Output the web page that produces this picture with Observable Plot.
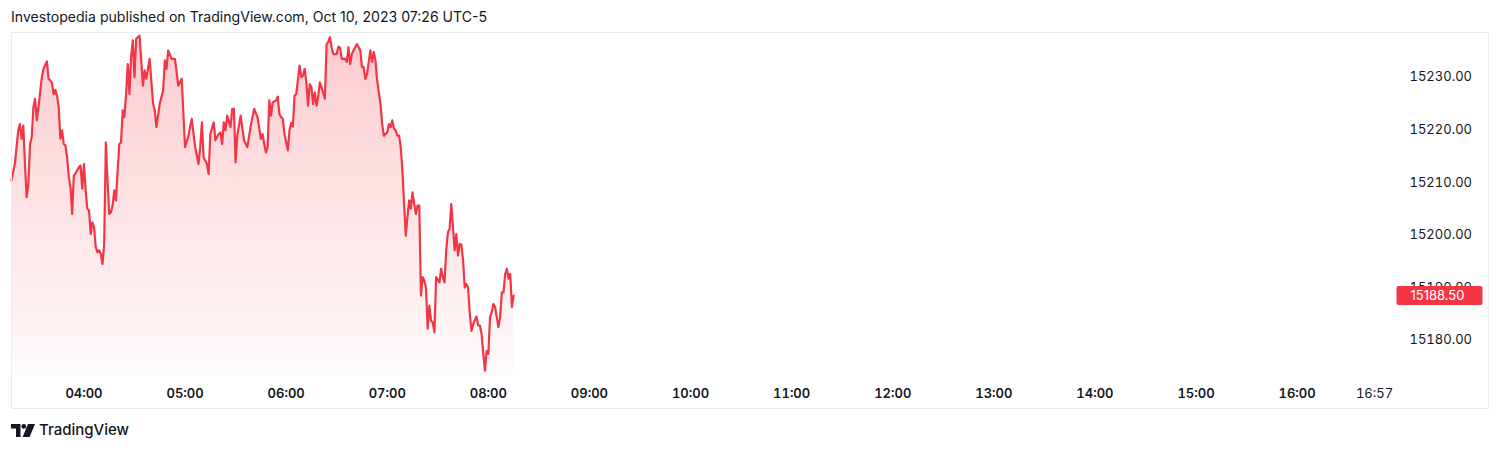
<!DOCTYPE html>
<html><head><meta charset="utf-8">
<script src="https://cdn.jsdelivr.net/npm/d3@7"></script>
<script src="https://cdn.jsdelivr.net/npm/@observablehq/plot@0.6"></script>
<style>
body{margin:0;background:#fff;font-family:Inter,"Liberation Sans",sans-serif;color:#131722;}
#page{position:relative;width:1500px;height:450px;overflow:hidden}
#title{position:absolute;left:11px;top:8px;font-size:14.1px;line-height:18px;white-space:nowrap}
#chart{position:absolute;left:0;top:32px;}
#frame{position:absolute;left:11px;top:32px;width:1478px;height:377px;border:1px solid #e9ebef;box-sizing:border-box;pointer-events:none}
#footer{position:absolute;left:11px;top:420px;display:flex;align-items:center;font-size:15px;font-weight:500;line-height:20px}
#footer svg{margin-right:4px}
</style></head>
<body>
<div id="page">
  <div id="title">Investopedia published on TradingView.com, Oct 10, 2023 07:26 UTC-5</div>
  <div id="chart"></div>
  <div id="frame"></div>
  <div id="footer"><svg width="24" height="13" viewBox="0 0 24 13"><path d="M0 0H9.5V13H5V4.6H0Z" fill="#131722"/><circle cx="12.8" cy="2.4" r="2.4" fill="#131722"/><path d="M17 0H24L18.6 13H11.6Z" fill="#131722"/></svg>TradingView</div>
</div>
<script>
// minute of day (Oct 10, 2023) for each sample
const minuteOfDay = [
197,199,201,202,203,204,205,206,207,208,
209,210,211,212,213,214,215,216,218,219,
220,221,222,223,224,225,226,227,228,229,
230,231,232,233,234,235,236,237,238,239,
240,241,242,243,244,245,246,247,248,249,
250,251,252,253,254,255,256,257,258,259,
260,261,262,263,264,265,266,267,268,269,
270,271,273,275,276,277,279,281,282,283,
285,287,288,289,290,292,294,296,298,300,
302,304,306,308,309,310,311,313,314,315,
317,318,320,321,322,323,324,325,327,328,
329,330,331,333,335,337,339,341,343,345,
346,347,348,349,350,351,352,354,355,356,
357,358,359,361,362,363,364,365,366,368,
369,370,371,372,373,374,375,376,377,378,
379,380,381,383,384,385,386,387,388,390,
391,392,393,395,396,397,398,399,401,402,
404,405,406,407,408,410,411,412,413,414,
415,416,417,418,420,421,422,423,424,425,
426,427,428,429,430,431,432,433,434,435,
436,437,438,439,440,441,442,443,444,445,
446,447,448,449,451,452,453,454,455,456,
457,458,459,460,461,462,463,464,465,466,
467,468,469,470,471,473,474,475,476,477,
478,479,480,481,482,483,484,485,486,487,
488,489,490,491,492,493,494,495];
const price = [
15210.4,15213.5,15219.9,15221.1,15218.3,15220.8,15213.5,15207.2,15209.7,15217.3,
15218.6,15224.3,15225.9,15221.8,15224.3,15227.1,15230.0,15231.6,15233.0,15229.7,
15229.4,15228.9,15226.8,15227.6,15226.5,15224.3,15218.3,15219.9,15217.3,15217.0,
15214.8,15211.0,15209.1,15204.0,15211.3,15211.7,15212.3,15212.9,15213.2,15208.8,
15213.5,15208.5,15205.0,15204.7,15200.2,15202.4,15201.5,15197.7,15196.7,15197.1,
15196.4,15194.5,15198.3,15217.6,15210.4,15204.0,15204.3,15205.6,15208.5,15206.6,
15212.3,15217.3,15217.6,15223.7,15222.4,15226.8,15232.5,15226.8,15233.8,15237.0,
15230.0,15237.3,15237.9,15228.4,15231.3,15229.7,15233.5,15225.0,15223.7,15220.5,
15225.0,15227.5,15233.2,15231.6,15235.1,15233.5,15233.5,15228.4,15229.7,15216.7,
15218.9,15222.1,15216.7,15213.5,15216.7,15221.4,15214.8,15213.5,15211.6,15219.2,
15221.4,15218.0,15219.2,15219.5,15217.3,15221.4,15219.9,15222.7,15220.5,15224.0,
15224.0,15213.8,15218.9,15222.7,15218.0,15216.7,15220.8,15224.0,15222.4,15218.3,
15219.2,15217.3,15215.7,15216.7,15225.6,15222.7,15225.2,15225.6,15226.3,15223.0,
15222.4,15222.1,15219.2,15216.1,15219.9,15221.3,15220.6,15226.5,15226.8,15232.2,
15230.0,15230.3,15231.6,15229.0,15224.6,15228.7,15228.1,15224.9,15227.1,15224.6,
15226.2,15229.0,15228.1,15225.9,15236.3,15236.7,15237.6,15235.7,15234.4,15234.4,
15235.8,15235.6,15233.5,15233.5,15232.9,15235.7,15232.5,15234.4,15235.7,15236.3,
15235.1,15231.9,15231.9,15229.7,15230.6,15235.1,15232.9,15234.8,15233.2,15229.4,
15227.1,15224.9,15221.1,15218.9,15219.5,15221.1,15220.5,15221.8,15220.2,15219.9,
15218.9,15218.9,15216.7,15212.3,15205.9,15199.9,15203.4,15206.6,15205.0,15208.1,
15205.9,15204.0,15205.6,15205.6,15188.5,15192.0,15191.3,15190.0,15182.2,15186.6,
15183.7,15183.4,15181.5,15192.0,15191.0,15193.6,15192.0,15191.0,15197.1,15200.5,
15201.2,15205.9,15201.5,15197.1,15200.2,15196.1,15198.3,15198.2,15195.2,15190.0,
15190.7,15190.0,15185.0,15181.8,15183.1,15184.5,15182.8,15182.8,15181.2,15177.4,
15174.2,15178.0,15177.4,15184.4,15185.3,15186.9,15186.3,15184.4,15182.5,15184.4,
15189.1,15189.1,15192.6,15193.6,15191.7,15192.6,15186.3,15188.5];

const timeTicks = ["04:00","05:00","06:00","07:00","08:00","09:00","10:00","11:00","12:00","13:00","14:00","15:00","16:00"];
const lastTimeLabel = "16:57";
const priceTicks = [15180, 15190, 15200, 15210, 15220, 15230];
const viewStart = "03:17:00";
const viewEnd = "16:58:24";
const priceDomain = [15173.3, 15238.5];

const RED = "#f23645";
const parseT = s => { const [h, m, sec] = s.split(":").map(Number); return new Date(Date.UTC(2023, 9, 10, h, m, sec || 0)); };
const data = minuteOfDay.map((m, i) => ({t: new Date(Date.UTC(2023, 9, 10, 0, m)), v: price[i]}));
const last = data[data.length - 1];

const priceBox = {
  draw(ctx) {
    const w = 86, h = 19, r = 2, x0 = -w / 2, y0 = -h / 2;
    ctx.moveTo(x0 + r, y0);
    ctx.lineTo(x0 + w - r, y0); ctx.arcTo(x0 + w, y0, x0 + w, y0 + r, r);
    ctx.lineTo(x0 + w, y0 + h - r); ctx.arcTo(x0 + w, y0 + h, x0 + w - r, y0 + h, r);
    ctx.lineTo(x0 + r, y0 + h); ctx.arcTo(x0, y0 + h, x0, y0 + h - r, r);
    ctx.lineTo(x0, y0 + r); ctx.arcTo(x0, y0, x0 + r, y0, r);
    ctx.closePath();
  }
};

const fmtT = d3.utcFormat("%H:%M");

const chart = Plot.plot({
  width: 1500,
  height: 377,
  marginLeft: 11,
  marginRight: 105,
  marginTop: 0,
  marginBottom: 34,
  style: {fontFamily: "Inter, 'Liberation Sans', sans-serif", fontSize: "13px", color: "#131722", background: "transparent"},
  x: {type: "utc", domain: [parseT(viewStart), parseT(viewEnd)]},
  y: {domain: priceDomain},
  marks: [
    Plot.areaY(data, {x: "t", y: "v", fill: "url(#tvFill)", clip: true}),
    Plot.lineY(data, {x: "t", y: "v", stroke: RED, strokeWidth: 2.2, strokeLinejoin: "round"}),
    Plot.axisY(priceTicks, {anchor: "right", tickSize: 0, tickPadding: 14, tickFormat: d => d.toFixed(2), fontSize: 13, fill: "#131722", label: null}),
    Plot.axisX(timeTicks.map(parseT), {anchor: "bottom", tickSize: 0, tickPadding: 13, tickFormat: fmtT, fontSize: 13, fontWeight: 600, fill: "#131722", label: null}),
    Plot.axisX([parseT(lastTimeLabel)], {anchor: "bottom", tickSize: 0, tickPadding: 13, tickFormat: fmtT, textAnchor: "end", fontSize: 13, fill: "#131722", label: null}),
    Plot.dot([last], {y: "v", frameAnchor: "right", dx: 44, symbol: priceBox, fill: RED, stroke: "none", r: 5}),
    Plot.text([last], {y: "v", frameAnchor: "right", dx: 15, textAnchor: "start", text: d => d.v.toFixed(2), fill: "white", fontSize: 13})
  ]
});

const svg = d3.select(chart);
const grad = svg.insert("defs", ":first-child").append("linearGradient")
  .attr("id", "tvFill").attr("gradientUnits", "userSpaceOnUse")
  .attr("x1", 0).attr("x2", 0).attr("y1", 0).attr("y2", 343);
grad.append("stop").attr("offset", "0%").attr("stop-color", RED).attr("stop-opacity", 0.26);
grad.append("stop").attr("offset", "100%").attr("stop-color", RED).attr("stop-opacity", 0.02);

document.getElementById("chart").appendChild(chart);
</script>
</body></html>
